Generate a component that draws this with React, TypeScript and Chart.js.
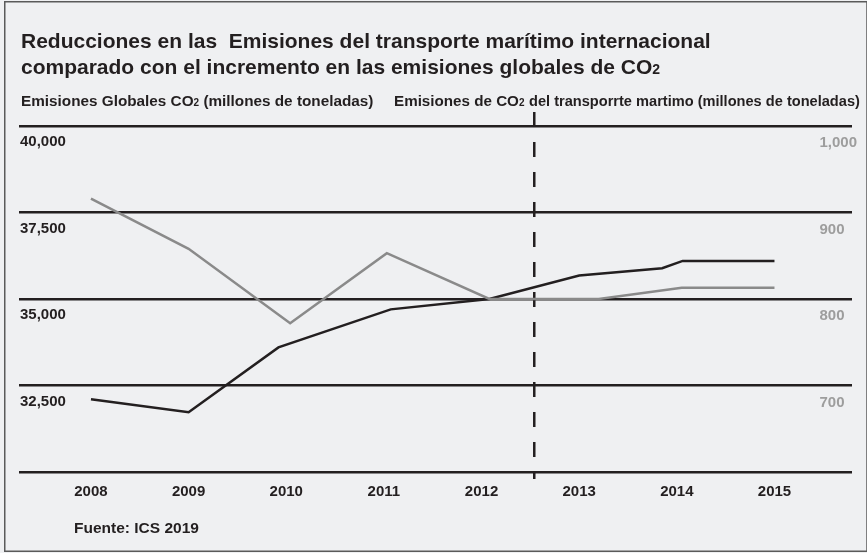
import React, { useEffect, useRef } from "react";
import { Chart, registerables } from "chart.js";

Chart.register(...registerables);

// ---------- data ----------
const years = [2008, 2009, 2010, 2011, 2012, 2013, 2014, 2015];
const yearLabels = ["2008", "2009", "2010", "2011", "2012", "2013", "2014", "2015"];

// Global CO2 emissions (millions of tonnes) – left axis
const globalX = [2008, 2009, 2009.92, 2011.07, 2012.08, 2013, 2013.85, 2014.06, 2015];
const globalY = [32100, 31730, 33600, 34700, 35000, 35680, 35890, 36100, 36100];

// Shipping CO2 emissions (millions of tonnes) – right axis
const shipX = [2008, 2009, 2010.04, 2011.03, 2012.08, 2013.2, 2014.05, 2015];
const shipY = [916, 858, 772, 853, 800, 800, 813, 813];

const leftTicks = [30000, 32500, 35000, 37500, 40000];
const leftTickLabels = ["", "32,500", "35,000", "37,500", "40,000"];
const rightTicks = [600, 700, 800, 900, 1000];
const rightTickLabels = ["", "700", "800", "900", "1,000"];

const dividerYear = 2012.54;

const titleLine1 = "Reducciones en las  Emisiones del transporte marítimo internacional";
const titleLine2 = "comparado con el incremento en las emisiones globales de CO";
const headerLeftA = "Emisiones Globales CO";
const headerLeftB = " (millones de toneladas)";
const headerMid = "Emisiones de CO";
const headerRight = "del transporrte martimo (millones de toneladas)";
const sourceText = "Fuente: ICS 2019";

// ---------- styles ----------
const FONT = "'Liberation Sans', Arial, Helvetica, sans-serif";
const BG = "#eff0f2";
const DARK = "#231f20";
const GREY_LINE = "#8a8a8a";
const GREY_TEXT = "#9d9d9d";

type Run = { t: string; s: number; dy?: number };

function drawRuns(ctx: CanvasRenderingContext2D, runs: Run[], x: number, y: number, color: string) {
  let cx = x;
  ctx.fillStyle = color;
  ctx.textAlign = "left";
  ctx.textBaseline = "alphabetic";
  for (const r of runs) {
    ctx.font = `bold ${r.s}px ${FONT}`;
    ctx.fillText(r.t, cx, y + (r.dy || 0));
    cx += ctx.measureText(r.t).width;
  }
}

const decorPlugin = {
  id: "decor",
  beforeDraw(chart: any) {
    const ctx: CanvasRenderingContext2D = chart.ctx;
    ctx.save();
    ctx.fillStyle = BG;
    ctx.fillRect(0, 0, chart.width, chart.height);
    ctx.strokeStyle = "#5a5a5a";
    ctx.lineWidth = 1.5;
    ctx.strokeRect(4.75, 1.75, chart.width - 4.75, chart.height - 3.5);
    ctx.restore();
  },
  beforeDatasetsDraw(chart: any) {
    const ctx: CanvasRenderingContext2D = chart.ctx;
    const x = chart.scales.x.getPixelForValue(dividerYear);
    const { top, bottom } = chart.chartArea;
    ctx.save();
    ctx.strokeStyle = DARK;
    ctx.lineWidth = 2.5;
    ctx.setLineDash([15, 15]);
    ctx.beginPath();
    ctx.moveTo(x, top - 14);
    ctx.lineTo(x, bottom + 7);
    ctx.stroke();
    ctx.restore();
  },
  afterDraw(chart: any) {
    const ctx: CanvasRenderingContext2D = chart.ctx;
    ctx.save();
    drawRuns(ctx, [{ t: titleLine1, s: 21 }], 21, 48, DARK);
    drawRuns(ctx, [{ t: titleLine2, s: 21 }, { t: "2", s: 14 }], 21, 74, DARK);
    drawRuns(ctx, [{ t: headerLeftA, s: 15.3 }, { t: "2", s: 10 }, { t: headerLeftB, s: 15.3 }], 21, 106, DARK);
    drawRuns(ctx, [{ t: headerMid, s: 15.2 }, { t: "2", s: 10 }], 394, 106, DARK);
    drawRuns(ctx, [{ t: headerRight, s: 14.6 }], 529, 106, DARK);
    drawRuns(ctx, [{ t: sourceText, s: 15.5 }], 74, 532.5, DARK);
    ctx.restore();
  },
};

export default function App() {
  const ref = useRef<HTMLCanvasElement | null>(null);

  useEffect(() => {
    if (!ref.current) return;
    const chart = new Chart(ref.current, {
      type: "line",
      data: {
        datasets: [
          {
            label: "Emisiones de CO2 del transporte marítimo",
            data: shipX.map((x, i) => ({ x, y: shipY[i] })),
            yAxisID: "yRight",
            borderColor: GREY_LINE,
            borderWidth: 2.5,
            pointRadius: 0,
            tension: 0,
            fill: false,
          },
          {
            label: "Emisiones Globales CO2",
            data: globalX.map((x, i) => ({ x, y: globalY[i] })),
            yAxisID: "yLeft",
            borderColor: DARK,
            borderWidth: 2.5,
            pointRadius: 0,
            tension: 0,
            fill: false,
          },
        ],
      },
      options: {
        animation: false,
        responsive: false,
        devicePixelRatio: 1,
        layout: { padding: { left: 19, right: 15, top: 126, bottom: 51 } },
        plugins: {
          legend: { display: false },
          title: { display: false },
          tooltip: { enabled: false },
        },
        scales: {
          x: {
            type: "linear",
            min: 2007.263,
            max: 2015.794,
            afterBuildTicks: (axis: any) => {
              axis.ticks = years.map((v) => ({ value: v }));
            },
            afterFit: (axis: any) => {
              axis.height = 30;
            },
            grid: { display: false, drawTicks: false },
            border: { display: false },
            ticks: {
              autoSkip: false,
              maxRotation: 0,
              padding: 11,
              color: DARK,
              font: { family: FONT, size: 15, weight: "bold" },
              callback: (v: any) => yearLabels[years.indexOf(Number(v))] ?? "",
            },
          },
          yLeft: {
            type: "linear",
            position: "left",
            min: 30000,
            max: 40000,
            afterBuildTicks: (axis: any) => {
              axis.ticks = leftTicks.map((v) => ({ value: v }));
            },
            afterFit: (axis: any) => {
              axis.width = 0;
            },
            grid: { color: DARK, lineWidth: 2.5, drawTicks: false },
            border: { display: false },
            ticks: {
              mirror: true,
              padding: 1,
              labelOffset: 16,
              color: DARK,
              font: { family: FONT, size: 15, weight: "bold" },
              callback: (v: any) => leftTickLabels[leftTicks.indexOf(Number(v))] ?? "",
            },
          },
          yRight: {
            type: "linear",
            position: "right",
            min: 600,
            max: 1000,
            afterBuildTicks: (axis: any) => {
              axis.ticks = rightTicks.map((v) => ({ value: v }));
            },
            afterFit: (axis: any) => {
              axis.width = 0;
            },
            grid: { display: false, drawTicks: false },
            border: { display: false },
            ticks: {
              mirror: true,
              crossAlign: "far",
              padding: 5,
              labelOffset: 17,
              color: GREY_TEXT,
              font: { family: FONT, size: 15, weight: "bold" },
              callback: (v: any) => rightTickLabels[rightTicks.indexOf(Number(v))] ?? "",
            },
          },
        },
      },
      plugins: [decorPlugin],
    } as any);
    return () => chart.destroy();
  }, []);

  return (
    <div style={{ position: "fixed", left: 0, top: 0, width: 867, height: 553, background: BG }}>
      <canvas ref={ref} width={867} height={553} style={{ display: "block" }} />
    </div>
  );
}
